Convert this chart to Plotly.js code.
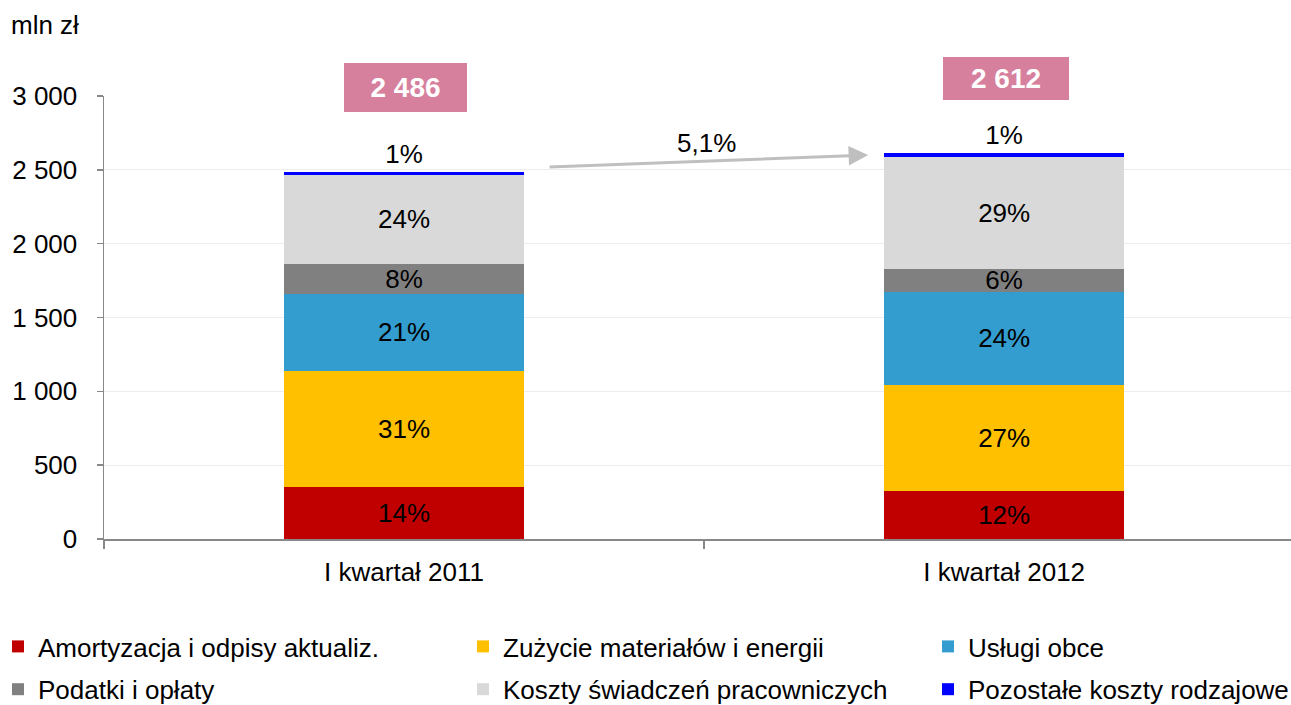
<!DOCTYPE html>
<html>
<head>
<meta charset="utf-8">
<script src="https://cdn.plot.ly/plotly-3.0.1.min.js"></script>
<style>html,body{margin:0;padding:0;background:#fff;}#chart{width:1291px;height:705px;}</style>
</head>
<body>
<div id="chart"></div>
<script>
// ---- data ----
var categories = ['I kwartał 2011', 'I kwartał 2012'];
var seriesNames = [
  'Amortyzacja i odpisy aktualiz.',
  'Zużycie materiałów i energii',
  'Usługi obce',
  'Podatki i opłaty',
  'Koszty świadczeń pracowniczych',
  'Pozostałe koszty rodzajowe'
];
var amortyzacja = [352, 327];
var zuzycie = [786, 714];
var uslugi = [521, 634];
var podatki = [203, 153];
var koszty = [605, 757];
var pozostale = [19, 27];
var seriesValues = [amortyzacja, zuzycie, uslugi, podatki, koszty, pozostale];
var pctLabels = [
  ['14%', '12%'],
  ['31%', '27%'],
  ['21%', '24%'],
  ['8%', '6%'],
  ['24%', '29%'],
  ['1%', '1%']
];
var totals = ['2 486', '2 612'];
var growthLabel = '5,1%';
var yTickVals = [0, 500, 1000, 1500, 2000, 2500, 3000];
var yTickText = ['0', '500', '1 000', '1 500', '2 000', '2 500', '3 000'];
var unitLabel = 'mln zł';

// ---- styles ----
var colors = ['#C00000', '#FFC000', '#339DCF', '#808080', '#D9D9D9', '#0000FF'];
var legendIds = ['legend', 'legend2', 'legend3', 'legend', 'legend2', 'legend3'];
var FONT = 'Liberation Sans, Arial, sans-serif';
var FS = 26;

var traces = seriesValues.map(function (vals, i) {
  var isTop = i === seriesValues.length - 1;
  return {
    type: 'bar',
    name: seriesNames[i],
    x: categories,
    y: vals,
    width: 0.4,
    marker: {color: colors[i], line: {width: 0}},
    text: pctLabels[i],
    texttemplate: '%{text}',
    textposition: isTop ? 'outside' : 'inside',
    insidetextanchor: 'middle',
    textangle: 0,
    constraintext: 'none',
    cliponaxis: false,
    textfont: {family: FONT, size: FS, color: '#000'},
    insidetextfont: {family: FONT, size: FS, color: '#000'},
    outsidetextfont: {family: FONT, size: FS, color: '#000'},
    legend: legendIds[i],
    legendgroup: 'g' + i,
    hoverinfo: 'skip'
  };
});

var L = 104, T = 96, PW = 1187, PH = 443;
function px2paperX(px) { return (px - L) / PW; }
function px2paperY(py) { return (T + PH - py) / PH; }

var legendBase = {
  orientation: 'v',
  yanchor: 'top',
  xanchor: 'left',
  y: px2paperY(623),
  bgcolor: 'rgba(0,0,0,0)',
  borderwidth: 0,
  traceorder: 'grouped',
  tracegroupgap: 6,
  font: {family: FONT, size: FS, color: '#000'}
};
function mkLegend(pxLeft) {
  var o = JSON.parse(JSON.stringify(legendBase));
  o.x = px2paperX(pxLeft);
  return o;
}

var layout = {
  width: 1291,
  height: 705,
  margin: {l: L, r: 0, t: T, b: 705 - T - PH, autoexpand: false},
  paper_bgcolor: '#fff',
  plot_bgcolor: '#fff',
  font: {family: FONT, size: FS, color: '#000'},
  barmode: 'stack',
  showlegend: true,
  uniformtext: {mode: 'show', minsize: FS},
  xaxis: {
    type: 'category',
    range: [-0.5, 1.478],
    showline: true,
    linecolor: '#888888',
    linewidth: 1.5,
    ticks: 'outside',
    tickson: 'boundaries',
    ticklen: 8,
    tickcolor: '#888888',
    tickwidth: 1.5,
    showgrid: false,
    zeroline: false,
    ticklabelstandoff: 9,
    tickfont: {family: FONT, size: FS, color: '#000'},
    fixedrange: true
  },
  yaxis: {
    range: [0, 3000],
    tickvals: yTickVals,
    ticktext: yTickText,
    showline: true,
    linecolor: '#888888',
    linewidth: 1.5,
    ticks: 'outside',
    ticklen: 6,
    tickcolor: '#888888',
    tickwidth: 1.5,
    showgrid: true,
    gridcolor: '#EDEDED',
    gridwidth: 1,
    zeroline: false,
    ticklabelstandoff: 14,
    tickfont: {family: FONT, size: FS, color: '#000'},
    fixedrange: true
  },
  legend: mkLegend(-2),
  legend2: mkLegend(463),
  legend3: mkLegend(928),
  annotations: [
    {
      xref: 'paper', yref: 'paper',
      x: px2paperX(9), y: px2paperY(25),
      xanchor: 'left', yanchor: 'middle',
      text: unitLabel, showarrow: false,
      font: {family: FONT, size: FS, color: '#000'}
    },
    {
      xref: 'x', yref: 'paper',
      x: 0.003, y: px2paperY(87.5),
      xanchor: 'center', yanchor: 'middle',
      text: '<b>' + totals[0] + '</b>', showarrow: false,
      bgcolor: '#D6809D', bordercolor: '#D6809D', borderwidth: 1, borderpad: 0,
      width: 121, height: 47,
      font: {family: FONT, size: 28, color: '#fff'}
    },
    {
      xref: 'x', yref: 'paper',
      x: 1.003, y: px2paperY(79),
      xanchor: 'center', yanchor: 'middle',
      text: '<b>' + totals[1] + '</b>', showarrow: false,
      bgcolor: '#D6809D', bordercolor: '#D6809D', borderwidth: 1, borderpad: 0,
      width: 124, height: 41,
      font: {family: FONT, size: 28, color: '#fff'}
    },
    {
      xref: 'x', yref: 'paper',
      x: (868 - 404) / 600, y: px2paperY(155),
      axref: 'pixel', ayref: 'pixel',
      ax: -320, ay: 12,
      text: '', showarrow: true,
      arrowhead: 2, arrowsize: 1.3, arrowwidth: 3, arrowcolor: '#BFBFBF',
      standoff: 0, startstandoff: 0
    },
    {
      xref: 'x', yref: 'paper',
      x: (706 - 404) / 600, y: px2paperY(143),
      xanchor: 'center', yanchor: 'middle',
      text: growthLabel, showarrow: false,
      font: {family: FONT, size: FS, color: '#000'}
    }
  ]
};

Plotly.newPlot('chart', traces, layout, {displayModeBar: false, staticPlot: true});
</script>
</body>
</html>
